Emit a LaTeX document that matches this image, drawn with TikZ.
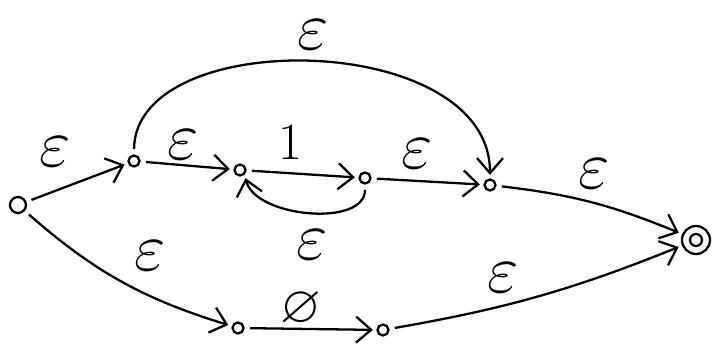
\documentclass[tikz,border=0pt]{standalone}
\usepackage{amssymb}
\usetikzlibrary{arrows.meta}

\begin{document}
\begin{tikzpicture}[>={Straight Barb[length=3mm,width=5.2mm]}, line width=1.3pt]
  \tikzstyle{st}=[circle, draw, inner sep=0pt, minimum size=2.2mm]
  \tikzstyle{lab}=[font=\Huge, scale=1.2, inner sep=0pt]
  \tikzstyle{eps}=[lab, scale=1.3]
  \tikzstyle{tr}=[->, shorten <=3pt, shorten >=2pt]

  \useasboundingbox (0,0) rectangle (14.26,7);

  \node[st, minimum size=3.2mm] (s) at (0.36,2.9) {};
  \node[st] (a) at (2.68,3.78) {};
  \node[st] (b) at (4.8,3.6) {};
  \node[st] (c) at (7.3,3.44) {};
  \node[st] (d) at (9.8,3.3) {};
  \node[st, minimum size=5.6mm] (f) at (13.92,2.2) {};
  \node[st, minimum size=2.4mm] at (f) {};
  \node[st] (e) at (4.76,0.44) {};
  \node[st] (g) at (7.66,0.4) {};

  \draw[tr] (s) -- (a);
  \draw[tr] (a) -- (b);
  \draw[tr] (b) -- (c);
  \draw[tr] (c) -- (d);
  \draw[tr] (d) to[bend left=8] (f);
  \draw[tr] (a.north) .. controls (2.7,6.5) and (9.8,6.4) .. (d.north);
  \draw[tr] (c.south) .. controls (7.3,2.45) and (5.1,2.65) .. (b.south east);
  \draw[tr] (s) to[bend right=12] (e);
  \draw[tr] (e) -- (g);
  \draw[tr] (g) to[bend right=6] (f);

  % labels
  \node[eps] (l1) at (1.1,3.96) {$\varepsilon$};
  \node[eps] (l2) at (3.66,4.1) {$\varepsilon$};
  \node[lab] (l3) at (5.82,4.14) {$1$};
  \node[eps] (l4) at (6.24,2.1) {$\varepsilon$};
  \node[eps] (l5) at (8.34,3.92) {$\varepsilon$};
  \node[eps] (l6) at (6.26,6.3) {$\varepsilon$};
  \node[eps] (l7) at (11.88,3.52) {$\varepsilon$};
  \node[eps] (l8) at (3.0,1.88) {$\varepsilon$};
  \node[lab] (l9) at (6.02,0.82) {$\varnothing$};
  \node[eps] (l10) at (10.06,1.44) {$\varepsilon$};
\end{tikzpicture}
\end{document}
